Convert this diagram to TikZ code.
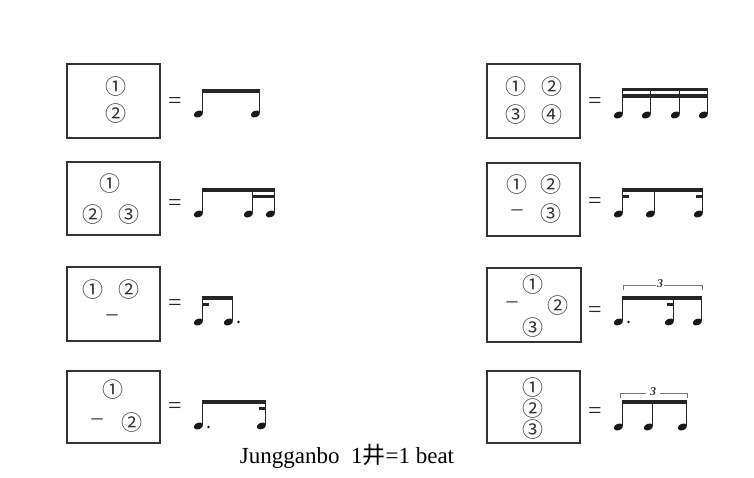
\documentclass[tikz,border=0pt]{standalone}
\usepackage{fontspec}
\setmainfont{Liberation Serif}
\newfontfamily\cjk{Noto Sans CJK JP}
\tikzset{
  box/.style={draw=black!80, line width=1.1pt, fill=none, inner sep=0pt},
  num/.style={font=\cjk\fontsize{21}{21}\selectfont, inner sep=0pt, text=black!80},
  eq/.style={font=\fontsize{24}{24}\selectfont, inner sep=0pt, text=black!85},
  dashmark/.style={font=\fontsize{22}{22}\selectfont, inner sep=0pt, text=black!85},
  stem/.style={line width=1pt, black!85},
  beamfill/.style={fill=black!85},
  tup/.style={line width=0.5pt, black!55},
  tupnum/.style={font=\itshape\bfseries\fontsize{12}{12}\selectfont, inner sep=1pt, text=black!80}
}
\newcommand{\nt}[3]{% stem x, head y, beam top y
  \fill[black!90, rotate around={22:(#1-4.6,#2)}] (#1-4.6,#2) ellipse (4.8 and 3.3);
  \draw[stem] (#1-0.3,#2-1) -- (#1-0.3,#3);
}
\newcommand{\bm}[4]{% x1 x2 ytop ybottom
  \fill[beamfill] (#1-0.8,#3) rectangle (#2+0.2,#4);
}
\begin{document}
\begin{tikzpicture}[x=1pt,y=-1pt]
\useasboundingbox[fill=white] (0,0) rectangle (754,478);
% ---------- boxes ----------
\node[box, minimum width=93pt, minimum height=74pt] (b1) at (113.5,101) {};
\node[box, minimum width=93pt, minimum height=73pt] (b2) at (113.5,198.5) {};
\node[box, minimum width=93pt, minimum height=74pt] (b3) at (113.5,304) {};
\node[box, minimum width=93pt, minimum height=72pt] (b4) at (113.5,407) {};
\node[box, minimum width=93pt, minimum height=74pt] (b5) at (533.5,101) {};
\node[box, minimum width=93pt, minimum height=73pt] (b6) at (533.5,199.5) {};
\node[box, minimum width=94pt, minimum height=74pt] (b7) at (534,305) {};
\node[box, minimum width=93pt, minimum height=72pt] (b8) at (533.5,407) {};
% ---------- numbers ----------
\node[num] (n11) at (116,87) {①};
\node[num] (n12) at (116,114) {②};
\node[num] (n21) at (110,184) {①};
\node[num] (n22) at (93,215) {②};
\node[num] (n23) at (129,215) {③};
\node[num] (n31) at (93,290) {①};
\node[num] (n32) at (129,290) {②};
\node[dashmark] (d3) at (112,318) {–};
\node[num] (n41) at (113,390) {①};
\node[dashmark] (d4) at (97,422) {–};
\node[num] (n42) at (132,423) {②};
\node[num] (n51) at (516,87) {①};
\node[num] (n52) at (552,87) {②};
\node[num] (n53) at (516,115) {③};
\node[num] (n54) at (552,115) {④};
\node[num] (n61) at (517,185) {①};
\node[num] (n62) at (551,185) {②};
\node[dashmark] (d6) at (517,213) {–};
\node[num] (n63) at (551,214) {③};
\node[num] (n71) at (533,285) {①};
\node[dashmark] (d7) at (512,305) {–};
\node[num] (n72) at (558,306) {②};
\node[num] (n73) at (533,328) {③};
\node[num] (n81) at (533,388) {①};
\node[num] (n82) at (533,409) {②};
\node[num] (n83) at (533,430) {③};
% ---------- equals ----------
\node[eq] (e1) at (175,103) {=};
\node[eq] (e2) at (175,205) {=};
\node[eq] (e3) at (175,305) {=};
\node[eq] (e4) at (175,408) {=};
\node[eq] (e5) at (595,103) {=};
\node[eq] (e6) at (595,203) {=};
\node[eq] (e7) at (595,312) {=};
\node[eq] (e8) at (595,413) {=};
% ---------- rhythm 1 ----------
\nt{203}{114}{89} \nt{260}{114}{89}
\bm{203}{260}{89}{93}
% ---------- rhythm 2 ----------
\nt{203}{214}{188} \nt{253}{214}{188} \nt{275}{214}{188}
\bm{203}{275}{188}{192}
\bm{253}{275}{195}{198}
% ---------- rhythm 3 ----------
\nt{203}{322}{296} \nt{233}{322}{296}
\bm{203}{233}{296}{300}
\bm{203}{209}{303}{306}
\fill[black!90] (238.5,322) circle (1.3);
% ---------- rhythm 4 ----------
\nt{203}{426}{400} \nt{266}{426}{400}
\bm{203}{266}{400}{404}
\bm{260}{266}{407}{410}
\fill[black!90] (208.5,427) circle (1.3);
% ---------- rhythm 5 ----------
\nt{623}{115}{88} \nt{651}{115}{88} \nt{680}{115}{88} \nt{708}{115}{88}
\bm{623}{708}{88}{91.5}
\bm{623}{708}{94.5}{98}
% ---------- rhythm 6 ----------
\nt{623}{214}{188} \nt{655}{214}{188} \nt{703}{214}{188}
\bm{623}{703}{188}{192}
\bm{623}{629}{195.5}{198.5}
\bm{697}{703}{195.5}{198.5}
% ---------- rhythm 7 ----------
\nt{623}{322}{296} \nt{674}{322}{296} \nt{702}{322}{296}
\bm{623}{702}{296}{300}
\bm{668}{674}{303}{306}
\fill[black!90] (628.5,322) circle (1.3);
\draw[tup] (623,290) -- (623,285) -- (702,285) -- (702,290);
\node[tupnum, fill=white] (t7) at (660,284) {3};
% ---------- rhythm 8 ----------
\nt{623}{427}{400} \nt{653}{427}{400} \nt{687}{427}{400}
\bm{623}{687}{400}{404}
\draw[tup] (620,398) -- (620,393) -- (646,393);
\draw[tup] (660,393) -- (687,393) -- (687,398);
\node[tupnum] (t8) at (653,392) {3};
% ---------- caption ----------
\node[inner sep=0pt, font=\fontsize{23}{23}\selectfont] (cap) at (347,456) {Jungganbo\ \ 1{\cjk 井}=1 beat};
\end{tikzpicture}
\end{document}
